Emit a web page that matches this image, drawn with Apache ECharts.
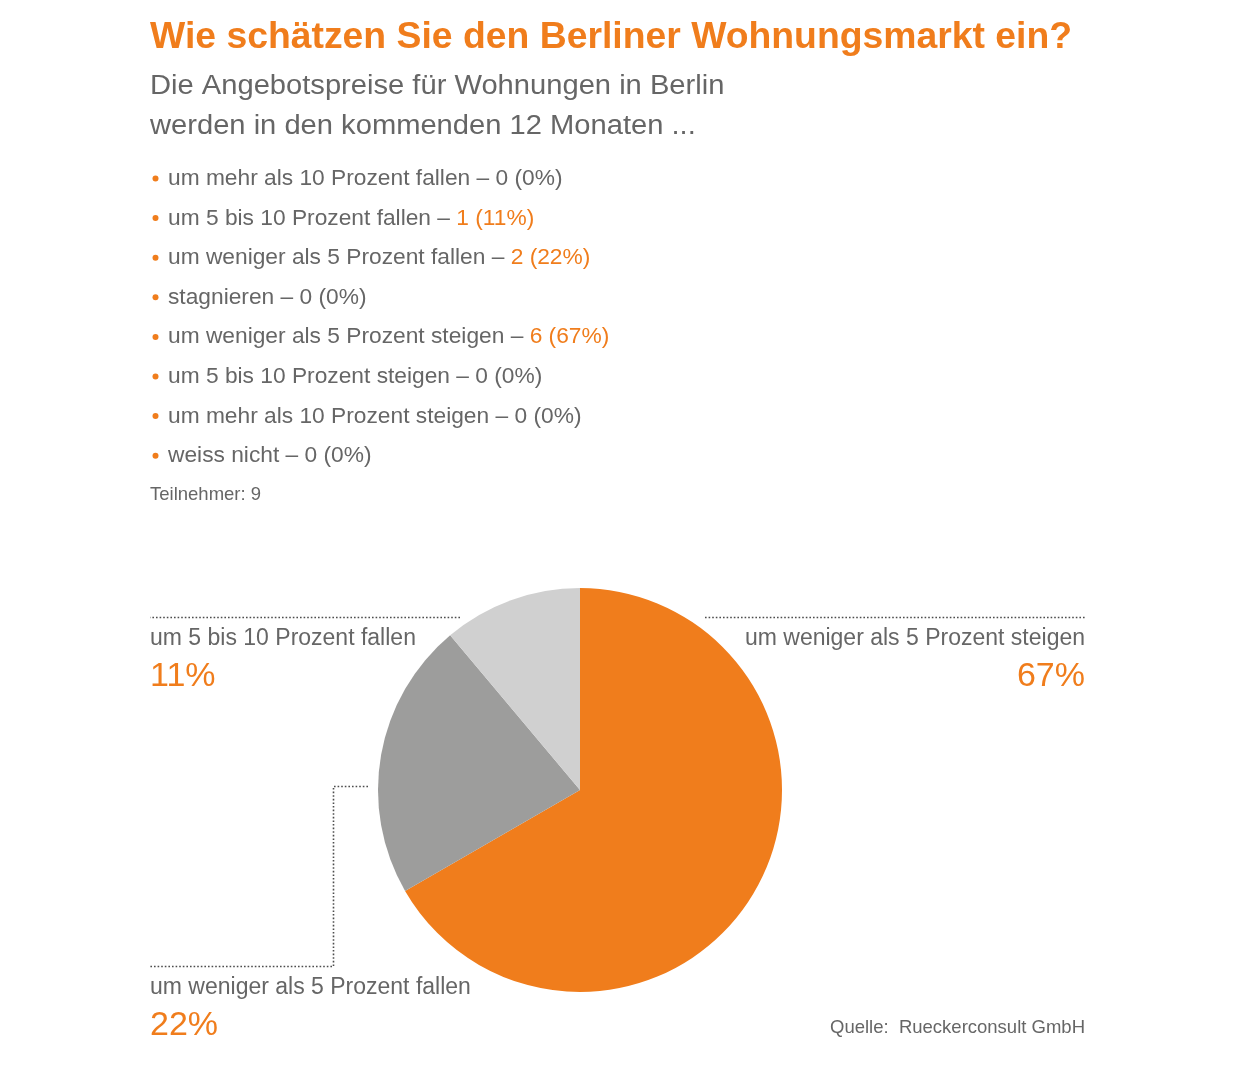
<!DOCTYPE html>
<html>
<head>
<meta charset="utf-8">
<script src="https://cdn.jsdelivr.net/npm/echarts@6/dist/echarts.min.js"></script>
<style>
html,body{margin:0;padding:0;background:#fff;}
#chart{width:1240px;height:1066px;}
</style>
</head>
<body>
<div id="chart"></div>
<script>
// ---- data ----
const titleText = 'Wie schätzen Sie den Berliner Wohnungsmarkt ein?';
const subtitleLines = ['Die Angebotspreise für Wohnungen in Berlin', 'werden in den kommenden 12 Monaten ...'];
const categories = [
  'um mehr als 10 Prozent fallen',
  'um 5 bis 10 Prozent fallen',
  'um weniger als 5 Prozent fallen',
  'stagnieren',
  'um weniger als 5 Prozent steigen',
  'um 5 bis 10 Prozent steigen',
  'um mehr als 10 Prozent steigen',
  'weiss nicht'
];
const counts = [0, 1, 2, 0, 6, 0, 0, 0];
const percents = [0, 11, 22, 0, 67, 0, 0, 0];
const participants = 9;
const sourceText = 'Quelle:  Rueckerconsult GmbH';

// ---- styles ----
const FONT = '"Liberation Sans", Arial, Helvetica, sans-serif';
const ORANGE = '#F07D1C';
const GRAY = '#666666';
const sliceColors = { 4: '#F07D1C', 2: '#9D9D9C', 1: '#D0D0D0' };

// pie slice order: clockwise from top, non-zero categories in reverse order
const pieIdx = [];
for (let i = categories.length - 1; i >= 0; i--) if (counts[i] > 0) pieIdx.push(i);
const pieData = pieIdx.map(i => ({
  name: categories[i],
  value: counts[i],
  pct: percents[i],
  itemStyle: { color: sliceColors[i] }
}));

// label placements (layout only)
const labelPlacement = {
  4: { x: 1085, y: 626, align: 'right', verticalAlign: 'top',
       labelLinePoints: [[705, 617.5], [1085, 617.5]] },
  2: { x: 150, y: 975, align: 'left', verticalAlign: 'top',
       labelLinePoints: [[368, 786.5], [333.5, 786.5], [333.5, 966.5], [150, 966.5]] },
  1: { x: 150, y: 626, align: 'left', verticalAlign: 'top',
       labelLinePoints: [[460, 617.5], [150, 617.5]] }
};

const graphics = [];
graphics.push({
  type: 'text', x: 150, y: 38, scaleX: 1.037, silent: true,
  style: { text: titleText, font: 'bold 36px ' + FONT, fill: ORANGE, verticalAlign: 'middle' }
});
subtitleLines.forEach((t, k) => {
  graphics.push({
    type: 'text', x: 150, y: 87 + k * 39.5, scaleX: 1.079, silent: true,
    style: { text: t, font: '27px ' + FONT, fill: GRAY, verticalAlign: 'middle' }
  });
});
categories.forEach((c, i) => {
  const y = 179 + i * 39.6;
  graphics.push({
    type: 'circle', silent: true,
    shape: { cx: 155.5, cy: y - 0.5, r: 3 },
    style: { fill: ORANGE }
  });
  graphics.push({
    type: 'text', x: 168, y: y, scaleX: 1.034, silent: true,
    style: {
      text: '{t|' + c + ' – }{v|' + counts[i] + ' (' + percents[i] + '%)}',
      verticalAlign: 'middle',
      rich: {
        t: { font: '22px ' + FONT, fill: GRAY },
        v: { font: '22px ' + FONT, fill: counts[i] > 0 ? ORANGE : GRAY }
      }
    }
  });
});
graphics.push({
  type: 'text', x: 150, y: 495, silent: true,
  style: { text: 'Teilnehmer: ' + participants, font: '18.5px ' + FONT, fill: GRAY, verticalAlign: 'middle' }
});
graphics.push({
  type: 'text', x: 1085, y: 1028, silent: true,
  style: { text: sourceText, font: '18.5px ' + FONT, fill: GRAY, align: 'right', verticalAlign: 'middle' }
});

const chart = echarts.init(document.getElementById('chart'), null, { renderer: 'canvas' });
chart.setOption({
  animation: false,
  backgroundColor: '#ffffff',
  graphic: graphics,
  series: [{
    type: 'pie',
    center: [580, 790],
    radius: 202,
    startAngle: 90,
    clockwise: true,
    silent: true,
    data: pieData,
    label: {
      show: true,
      position: 'outside',
      formatter: p => '{n|' + p.name + '}\n{p|' + p.data.pct + '%}',
      rich: {
        n: { fontSize: 23, fontFamily: FONT, color: GRAY, lineHeight: 26 },
        p: { fontSize: 34, fontFamily: FONT, color: ORANGE, lineHeight: 49 }
      }
    },
    labelLine: {
      show: true,
      lineStyle: { color: '#4d4d4d', width: 1.6, type: [1.6, 2] }
    },
    labelLayout: function (params) {
      return labelPlacement[pieIdx[params.dataIndex]];
    }
  }]
});
</script>
</body>
</html>
